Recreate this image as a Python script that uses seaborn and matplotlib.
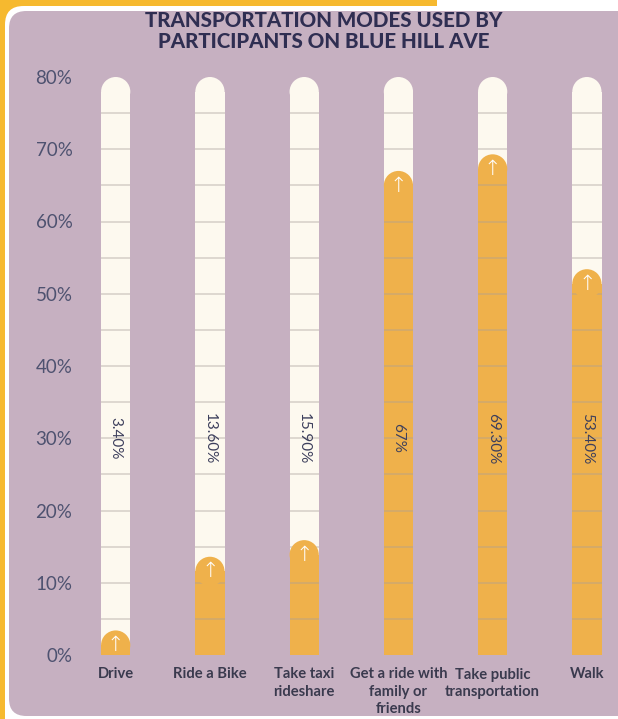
import numpy as np
import pandas as pd
import matplotlib.pyplot as plt
import seaborn as sns
from matplotlib.patches import Ellipse, FancyBboxPatch, Rectangle

# ===============================
# Data
# ===============================
modes = ["Drive", "Ride a Bike", "Take taxi\nrideshare",
         "Get a ride with\nfamily or\nfriends", "Take public\ntransportation", "Walk"]
share = [3.4, 13.6, 15.9, 67.0, 69.3, 53.4]
share_labels = ["3.40%", "13.60%", "15.90%", "67%", "69.30%", "53.40%"]
track_max = [80] * len(modes)
y_ticks = [0, 10, 20, 30, 40, 50, 60, 70, 80]
y_ticklabels = ["0%", "10%", "20%", "30%", "40%", "50%", "60%", "70%", "80%"]
grid_steps = [5, 10, 15, 20, 25, 30, 35, 40, 45, 50, 55, 60, 65, 70, 75]
label_level = 30

df = pd.DataFrame({"mode": modes, "share": share, "track": track_max})

# ===============================
# Style
# ===============================
mauve = "#C6B0C1"
orange = "#EFB14B"
cream = "#FDF9EF"
navy = "#2F2E52"
tick_col = "#4E5270"
yellow = "#F6B92F"

sns.set_style("white")
plt.rcParams["font.family"] = ["Lato", "DejaVu Sans"]

W, H = 618, 719
fig = plt.figure(figsize=(W / 100, H / 100), dpi=100, facecolor="white")

# background frame: yellow corner, white border, mauve panel
fig.add_artist(Rectangle((0, 0), 437 / W, 1, transform=fig.transFigure,
                         facecolor=yellow, edgecolor="none", zorder=-3))
fig.add_artist(FancyBboxPatch((5 / W, -0.05), 1.2, 1 - 6 / H + 0.05,
                              boxstyle="round,pad=0,rounding_size=0.03",
                              mutation_aspect=W / H, transform=fig.transFigure,
                              facecolor="white", edgecolor="none", zorder=-2))
fig.add_artist(FancyBboxPatch((9 / W, 3 / H), 1.2, 1 - 14 / H,
                              boxstyle="round,pad=0,rounding_size=0.028",
                              mutation_aspect=W / H, transform=fig.transFigure,
                              facecolor=mauve, edgecolor="none", zorder=-1))

# axes placed so that 0% sits at y=655px and bars are ~94px apart
x_left, x_right = -0.4, 5.33
y_top = 81
ax_left = 78 / W
ax_bottom = (H - 655) / H
ax_h = (y_top * 7.225) / H
ax = fig.add_axes([ax_left, ax_bottom, 1 - ax_left, ax_h])
ax.set_facecolor("none")

bar_w = 0.31
sns.barplot(data=df, x="mode", y="track", color=cream, width=bar_w,
            saturation=1, ax=ax, zorder=1)
n_track = len(ax.patches)
sns.barplot(data=df, x="mode", y="share", color=orange, width=bar_w,
            saturation=1, ax=ax, zorder=3)

ax.set_xlim(x_left, x_right)
ax.set_ylim(0, y_top)

# rounded caps: convert half bar width in pixels into y data units
px_per_x = (W - 78) / (x_right - x_left)
px_per_y = ax_h * H / y_top
r_y = (bar_w * px_per_x / 2) / px_per_y

for k, p in enumerate(ax.patches[:]):
    x0, w, h = p.get_x(), p.get_width(), p.get_height()
    p.set_height(h - r_y)
    p.set_edgecolor("none")
    z = 1 if k < n_track else 4
    ax.add_patch(Ellipse((x0 + w / 2, h - r_y), w, 2 * r_y,
                         facecolor=p.get_facecolor(), edgecolor="none", zorder=z))
    if k >= n_track:
        ax.text(x0 + w / 2, h - r_y * 1.0, "\u2191", color="white",
                ha="center", va="center", fontsize=15, family="DejaVu Sans",
                fontweight="light", zorder=5)

# thin horizontal grid lines inside each track
for i in range(len(modes)):
    ax.hlines(grid_steps, i - bar_w / 2, i + bar_w / 2, colors="#A8A09A",
              alpha=0.4, linewidth=1.3, zorder=3.5)

# vertical value labels
for i, lab in enumerate(share_labels):
    ax.text(i, label_level, lab, rotation=-90, ha="center", va="center",
            fontsize=11, color="#3D3F5C", zorder=6)

ax.set_yticks(y_ticks)
ax.set_yticklabels(y_ticklabels, fontsize=13.5, color=tick_col)
ax.set_xticks(range(len(modes)))
ax.set_xticklabels(modes, fontsize=10.6, color="#3A3A4E", linespacing=1.3,
                   fontweight="bold")
ax.tick_params(axis="y", length=0, pad=4)
ax.tick_params(axis="x", length=0, pad=9)
ax.set_xlabel("")
ax.set_ylabel("")
sns.despine(ax=ax, left=True, bottom=True)

fig.text(324 / W, 1 - 31 / H, "TRANSPORTATION MODES USED BY\nPARTICIPANTS ON BLUE HILL AVE",
         ha="center", va="center", fontsize=14.8, fontweight="black",
         color=navy, linespacing=1.08)

fig.savefig("out.png", dpi=100, facecolor=fig.get_facecolor())
